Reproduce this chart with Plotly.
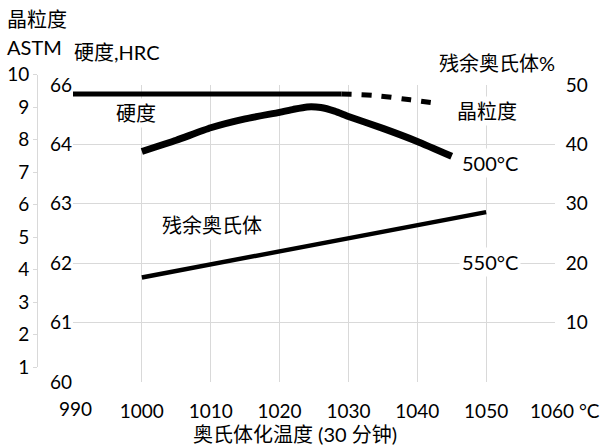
import plotly.graph_objects as go

# ---- data ----
temp_ticks = [1000, 1010, 1020, 1030, 1040, 1050, 1060]
temp_ticktext = ["1000", "1010", "1020", "1030", "1040", "1050", "\u00a0\u00a0\u00a0\u00a01060 °C"]
temp_first_text = "990"

hard_T = [1000, 1005, 1010, 1015, 1020, 1022, 1024, 1026, 1028, 1030, 1035, 1040, 1045]
hard_HRC = [63.88, 64.07, 64.28, 64.43, 64.54, 64.59, 64.63, 64.62, 64.56, 64.47, 64.27, 64.05, 63.80]
hard_ticks = [60, 61, 62, 63, 64, 65]
hard_ticktext = ["60", "61", "62", "63", "64", "66"]

grain_solid_T = [990, 1029]
grain_solid_ASTM = [9.40, 9.40]
grain_dash_T = [1029, 1034, 1039, 1042.5]
grain_dash_ASTM = [9.40, 9.35, 9.22, 9.12]
astm_ticks = [1, 2, 3, 4, 5, 6, 7, 8, 9, 10]

aus_T = [1000, 1050]
aus_pct = [17.6, 28.6]
aus_ticks = [10, 20, 30, 40, 50]

# ---- layout helpers ----
W, H = 606, 448
ML, MR, MT, MB = 30, 51, 74, 66
PW, PH = W - ML - MR, H - MT - MB


def xp(px):
    return (px - ML) / PW


def yp(py):
    return (H - MB - py) / PH


FONT = "Lato, 'Noto Sans CJK SC', sans-serif"
GRID = "#d9d9d9"
CLEAR = "rgba(0,0,0,0)"

fig = go.Figure()
fig.add_trace(go.Scatter(x=hard_T, y=hard_HRC, mode="lines", xaxis="x", yaxis="y",
                         line=dict(color="black", width=7, shape="spline", smoothing=0.5),
                         showlegend=False, hoverinfo="skip"))
fig.add_trace(go.Scatter(x=aus_T, y=aus_pct, mode="lines", xaxis="x", yaxis="y2",
                         line=dict(color="black", width=4.5),
                         showlegend=False, hoverinfo="skip"))
fig.add_trace(go.Scatter(x=grain_solid_T, y=grain_solid_ASTM, mode="lines", xaxis="x2", yaxis="y3",
                         line=dict(color="black", width=5),
                         showlegend=False, hoverinfo="skip", cliponaxis=False))
fig.add_trace(go.Scatter(x=grain_dash_T, y=grain_dash_ASTM, mode="lines", xaxis="x2", yaxis="y3",
                         line=dict(color="black", width=5, dash="10px,10px", shape="spline"),
                         showlegend=False, hoverinfo="skip", cliponaxis=False))

xdom = [xp(73), 1]
fig.update_layout(
    width=W, height=H,
    margin=dict(l=ML, r=MR, t=MT, b=MB, pad=0, autoexpand=False),
    paper_bgcolor="white", plot_bgcolor=CLEAR,
    font=dict(family=FONT, size=19, color="black"),
    xaxis=dict(domain=xdom, range=[990, 1060], tickvals=temp_ticks, ticktext=temp_ticktext,
               showgrid=True, gridcolor=GRID, gridwidth=1, zeroline=False, showline=False,
               tickangle=0, ticks="outside", ticklen=12, tickcolor=CLEAR, anchor="y",
               automargin=False),
    yaxis=dict(domain=[0, yp(85)], range=[60, 65], tickvals=hard_ticks, ticktext=hard_ticktext,
               showgrid=True, gridcolor=GRID, gridwidth=1, zeroline=False, showline=False,
               ticks="", anchor="x", automargin=False),
    yaxis2=dict(range=[0, 50], tickvals=aus_ticks, overlaying="y", side="right", anchor="x",
                showgrid=False, zeroline=False, showline=False,
                ticks="outside", ticklen=6, tickcolor=CLEAR, automargin=False),
    xaxis2=dict(domain=xdom, range=[990, 1060], visible=False, anchor="y3", showgrid=False,
                automargin=False),
    yaxis3=dict(domain=[yp(367), yp(74.5)], range=[1, 10], tickvals=astm_ticks,
                anchor="free", position=xp(37), side="left", automargin=False,
                showgrid=False, zeroline=False, showline=True, linecolor=GRID, linewidth=1,
                ticks="outside", ticklen=4, tickcolor=GRID),
)

ann = [
    (temp_first_text, 57, 408, "left", 19),
    ("晶粒度", 5, 19, "left", 20),
    ("ASTM", 5, 47, "left", 20),
    ("硬度,HRC", 72, 52, "left", 20),
    ("残余奥氏体%", 557, 63, "right", 20),
    ("奥氏体化温度 (30 分钟)", 295, 434, "center", 20),
]
for text, px, py, xa, fs in ann:
    fig.add_annotation(text=text, xref="paper", yref="paper", x=xp(px), y=yp(py),
                       xanchor=xa, yanchor="middle", showarrow=False,
                       font=dict(family=FONT, size=fs, color="black"))

inplot = [
    ("硬度", 136, 113),
    ("晶粒度", 487, 111),
    ("500°C", 490, 163),
    ("550°C", 490, 262),
    ("残余奥氏体", 212, 225),
]
for text, px, py in inplot:
    fig.add_annotation(text=text, xref="paper", yref="paper", x=xp(px), y=yp(py),
                       xanchor="center", yanchor="middle", showarrow=False,
                       bgcolor="white", borderpad=2,
                       font=dict(family=FONT, size=20, color="black"))

fig.write_html("out.html", config={"displayModeBar": False},
               post_script="document.body.style.margin='0';document.body.style.overflow='hidden';")
